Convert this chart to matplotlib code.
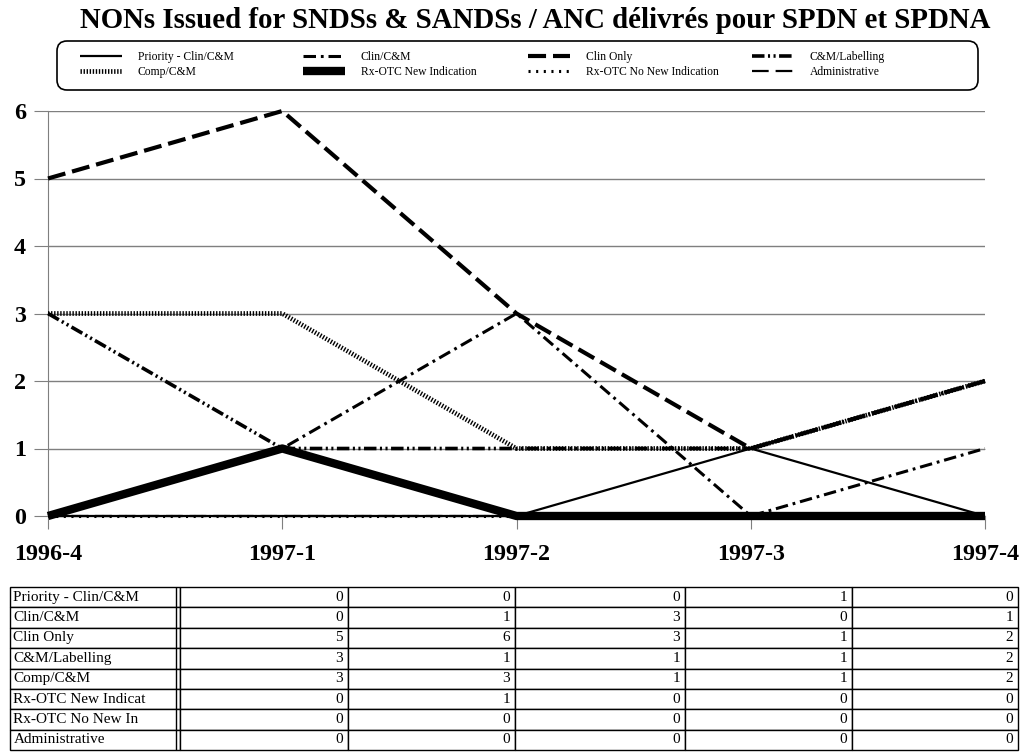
import matplotlib
matplotlib.use("Agg")
import matplotlib.pyplot as plt
from matplotlib.lines import Line2D
from matplotlib.patches import FancyBboxPatch
from matplotlib.transforms import IdentityTransform

plt.rcParams['font.family'] = ['Liberation Serif', 'DejaVu Serif']
plt.rcParams['lines.scale_dashes'] = False

# data
quarters = ['1996-4', '1997-1', '1997-2', '1997-3', '1997-4']
series_names = ['Priority - Clin/C&M', 'Clin/C&M', 'Clin Only', 'C&M/Labelling',
                'Comp/C&M', 'Rx-OTC New Indication', 'Rx-OTC No New Indication',
                'Administrative']
table_names = ['Priority - Clin/C&M', 'Clin/C&M', 'Clin Only', 'C&M/Labelling',
               'Comp/C&M', 'Rx-OTC New Indicat', 'Rx-OTC No New In', 'Administrative']
priority = [0, 0, 0, 1, 0]
clin_cm = [0, 1, 3, 0, 1]
clin_only = [5, 6, 3, 1, 2]
cm_labelling = [3, 1, 1, 1, 2]
comp_cm = [3, 3, 1, 1, 2]
rx_new = [0, 1, 0, 0, 0]
rx_no_new = [0, 0, 0, 0, 0]
administrative = [0, 0, 0, 0, 0]
values = [priority, clin_cm, clin_only, cm_labelling, comp_cm, rx_new, rx_no_new, administrative]

# line styles (lw in pt, dashes in pt)
styles = [
    dict(lw=1.6, ls='-'),
    dict(lw=2.2, dashes=(9, 3.5, 2, 3.5)),
    dict(lw=3.0, dashes=(13, 5)),
    dict(lw=2.6, dashes=(9, 2.5, 1.5, 2.5, 1.5, 2.5)),
    dict(lw=3.4, dashes=(1.0, 1.2)),
    dict(lw=6.0, ls='-'),
    dict(lw=2.2, dashes=(1.5, 4)),
    dict(lw=1.6, dashes=(12, 5)),
]
zorders = [6, 5, 5, 4, 4, 7, 3, 3]

fig = plt.figure(figsize=(10.24, 7.54), dpi=100)
ax = fig.add_axes([48/1024, 1-516/754, (985-48)/1024, (516-111)/754])

x = list(range(len(quarters)))
handles = []
for name, vals, st, z in zip(series_names, values, styles, zorders):
    ln, = ax.plot(x, vals, color='black', label=name, clip_on=False, zorder=z,
                  solid_capstyle='butt', dash_capstyle='butt', **st)
    handles.append(ln)

ax.set_xlim(0, 4)
ax.set_ylim(0, 6)
ax.set_yticks(range(7))
ax.set_xticks(x)
ax.set_xticklabels(quarters)
ax.yaxis.grid(True, color='#7f7f7f', lw=1)
ax.set_axisbelow(True)
for s in ['top', 'right']:
    ax.spines[s].set_visible(False)
ax.spines['left'].set_color('#7f7f7f')
ax.spines['bottom'].set_color('#7f7f7f')
ax.tick_params(axis='y', length=10, color='#7f7f7f', pad=6, labelsize=17.3)
ax.tick_params(axis='x', length=9.5, color='#7f7f7f', pad=11, labelsize=17.3)
for lab in ax.get_xticklabels() + ax.get_yticklabels():
    lab.set_fontweight('bold')

fig.text(535/1024, 1-21/754, 'NONs Issued for SNDSs & SANDSs / ANC délivrés pour SPDN et SPDNA',
         ha='center', va='center', fontsize=20.8, fontweight='bold')

# legend box and four columns (row-wise order like the original)
box = FancyBboxPatch((57, 754-90), 978-57, 49, boxstyle='round,pad=0,rounding_size=10',
                     transform=IdentityTransform(), fc='white', ec='black', lw=1.2)
fig.add_artist(box)
col_x = [80, 303, 528, 752]
for i, cx in enumerate(col_x):
    leg = fig.legend([handles[i], handles[i + 4]], [series_names[i], series_names[i + 4]],
                     loc='center left', bbox_to_anchor=(cx/1024, 1-64.5/754),
                     frameon=False, fontsize=8.4, handlelength=3.6, handletextpad=1.35,
                     borderpad=0, borderaxespad=0, labelspacing=0.25)

# data table
tax = fig.add_axes([10/1024, 1-750/754, 1008/1024, 163/754])
tax.axis('off')
cells = [[tn] + [str(v) for v in vals] for tn, vals in zip(table_names, values)]
col_w = [170, 168, 167, 170, 167, 166]
tot = sum(col_w)
tbl = tax.table(cellText=cells, colWidths=[w/tot for w in col_w], bbox=[0, 0, 1, 1])
tbl.auto_set_font_size(False)
for (r, c), cell in tbl.get_celld().items():
    cell.set_fontsize(11)
    cell.set_linewidth(1.0)
    cell.set_edgecolor('black')
    cell.get_text().set_ha('left' if c == 0 else 'right')
    cell.PAD = 0.02 if c == 0 else 0.03
tax.add_line(Line2D([166/tot, 166/tot], [0, 1], color='black', lw=1.0,
                    transform=tax.transAxes))

fig.savefig('out.png', dpi=100)
